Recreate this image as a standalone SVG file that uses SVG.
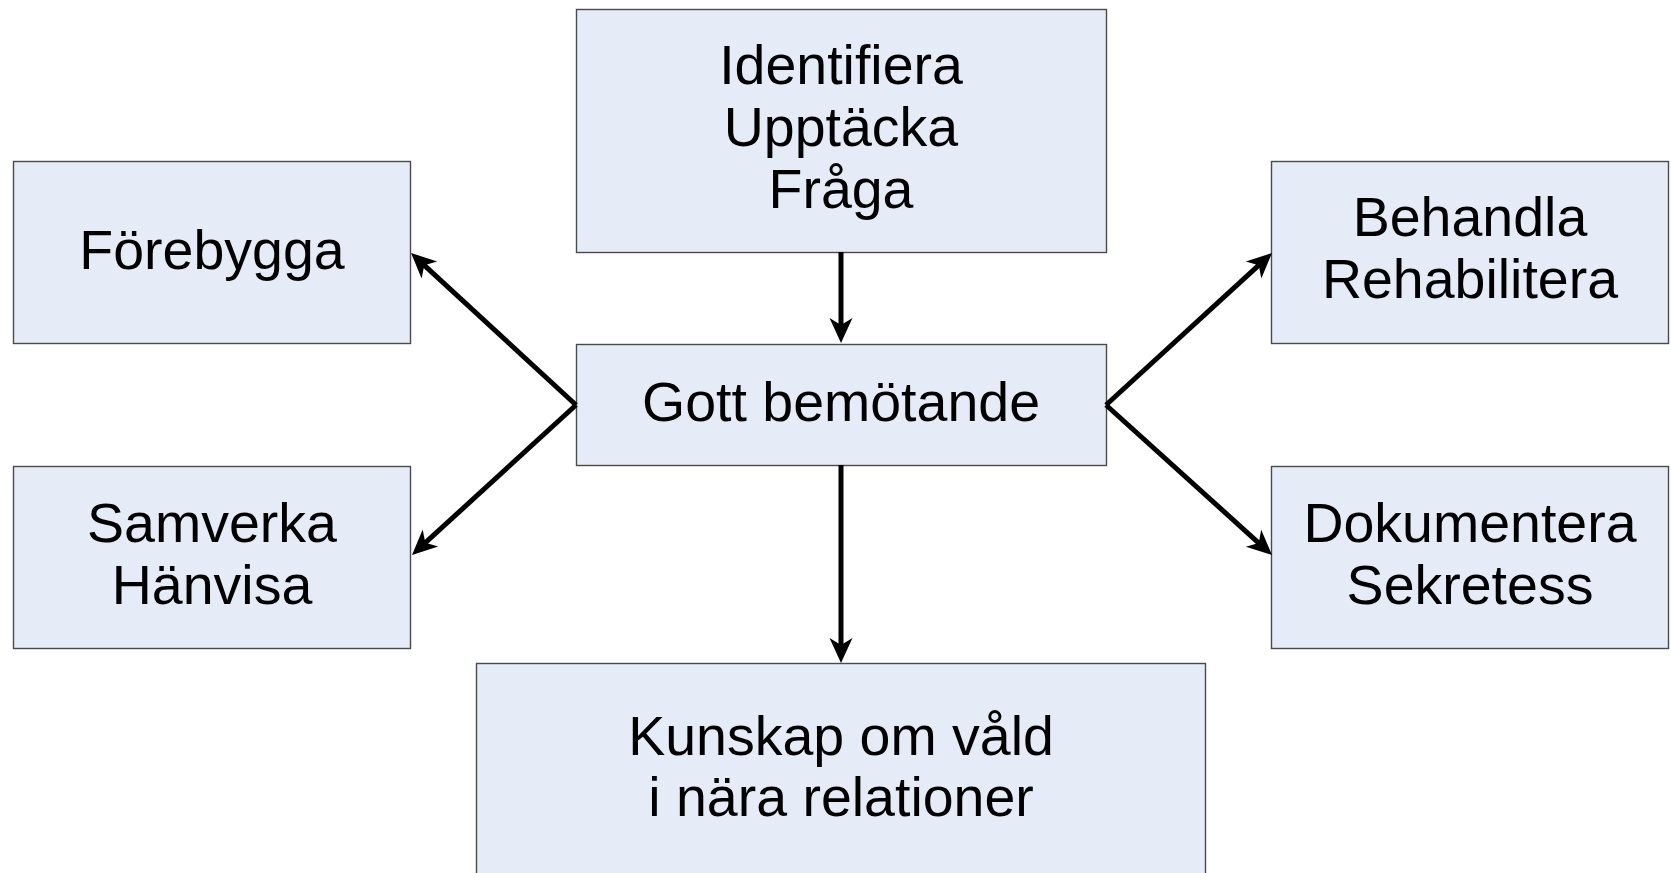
<svg xmlns="http://www.w3.org/2000/svg" width="1671" height="873" viewBox="0 0 1671 873">
<style>
.box{fill:#E6ECF7;stroke:#4A4A4A;stroke-width:1.4}
.t{font-family:"Liberation Sans",Arial,sans-serif;font-size:55.5px;fill:#000;text-anchor:middle}
.c{stroke:#000;stroke-width:5;fill:none}
</style>
<defs>
<marker id="arr" viewBox="-28 -13 30 26" refX="-13" refY="0" markerWidth="30" markerHeight="26" markerUnits="userSpaceOnUse" orient="auto">
<path d="M0,0 L-25,-11.5 L-18,0 L-25,11.5 Z" fill="#000"/>
</marker>
</defs>
<rect width="1671" height="873" fill="#fff"/>
<g id="identifiera">
<rect class="box" x="576.5" y="9.5" width="530" height="243"/>
<text class="t" x="841" y="84">Identifiera</text>
<text class="t" x="841" y="146">Upptäcka</text>
<text class="t" x="841" y="208">Fråga</text>
</g>
<g id="forebygga">
<rect class="box" x="13.5" y="161.5" width="397" height="182"/>
<text class="t" x="212" y="269">Förebygga</text>
</g>
<g id="behandla">
<rect class="box" x="1271.5" y="161.5" width="397" height="182"/>
<text class="t" x="1470" y="236">Behandla</text>
<text class="t" x="1470" y="298">Rehabilitera</text>
</g>
<g id="gott">
<rect class="box" x="576.5" y="344.5" width="530" height="121"/>
<text class="t" x="841" y="421">Gott bemötande</text>
</g>
<g id="samverka">
<rect class="box" x="13.5" y="466.5" width="397" height="182"/>
<text class="t" x="212" y="542">Samverka</text>
<text class="t" x="212" y="604">Hänvisa</text>
</g>
<g id="dokumentera">
<rect class="box" x="1271.5" y="466.5" width="397" height="182"/>
<text class="t" x="1470" y="542">Dokumentera</text>
<text class="t" x="1470" y="604">Sekretess</text>
</g>
<g id="kunskap">
<rect class="box" x="476.5" y="663.5" width="729" height="230"/>
<text class="t" x="841" y="755">Kunskap om våld</text>
<text class="t" x="841" y="816">i nära relationer</text>
</g>
<g id="connectors">
<line class="c" x1="841" y1="252" x2="841" y2="330" marker-end="url(#arr)"/>
<line class="c" x1="841" y1="465" x2="841" y2="650" marker-end="url(#arr)"/>
<line class="c" x1="576" y1="405" x2="420.6" y2="261.8" marker-end="url(#arr)"/>
<line class="c" x1="576" y1="405" x2="421.6" y2="546.2" marker-end="url(#arr)"/>
<line class="c" x1="1106" y1="405" x2="1262.4" y2="261.8" marker-end="url(#arr)"/>
<line class="c" x1="1106" y1="405" x2="1262.4" y2="546.3" marker-end="url(#arr)"/>
</g>
</svg>
